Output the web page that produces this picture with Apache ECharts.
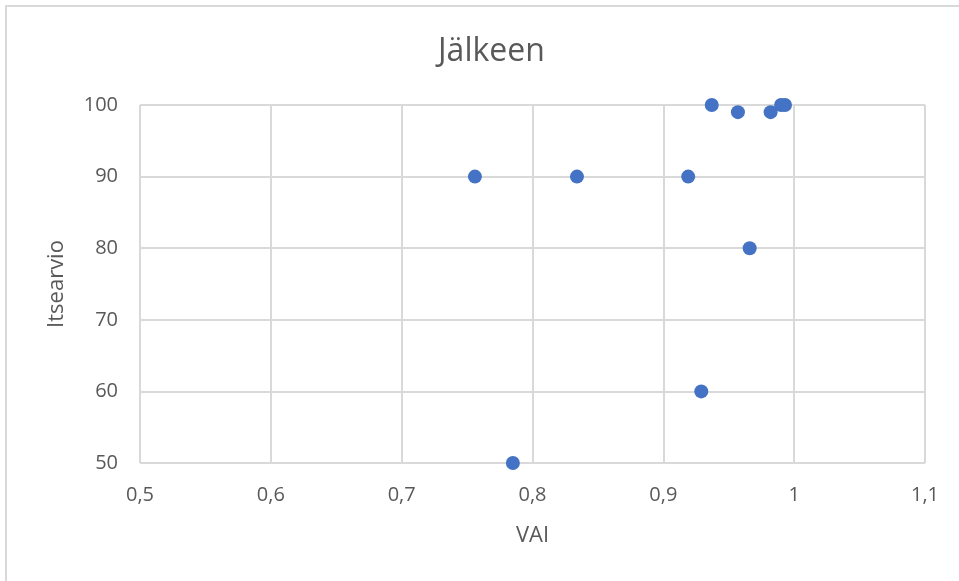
<!DOCTYPE html>
<html>
<head>
<meta charset="utf-8">
<script src="https://cdn.jsdelivr.net/npm/echarts@6/dist/echarts.min.js"></script>
<style>
  html, body { margin: 0; padding: 0; background: #fff; }
  #chart { width: 959px; height: 581px; position: absolute; left: 0; top: 0; }
  #frame {
    position: absolute; left: 5px; top: 5px; right: 0; bottom: 0;
    border-top: 2px solid #d9d9d9; border-left: 2px solid #d9d9d9;
    pointer-events: none;
  }
</style>
</head>
<body>
<div id="chart"></div>
<div id="frame"></div>
<script>
const vaiValues = [0.937, 0.957, 0.982, 0.990, 0.993, 0.756, 0.834, 0.919, 0.966, 0.929, 0.785];
const itsearvioValues = [100, 99, 99, 100, 100, 90, 90, 90, 80, 60, 50];

const textColor = '#595959';
const gridColor = '#d9d9d9';
const fontFamily = '"Open Sans", "Noto Sans", sans-serif';

const points = vaiValues.map((v, i) => [v, itsearvioValues[i]]);

const myChart = echarts.init(document.getElementById('chart'));

const option = {
    animation: false,
    title: {
        text: 'Jälkeen',
        left: 433,
        top: 31,
        textStyle: { color: textColor, fontSize: 32, fontWeight: 'normal', fontFamily: fontFamily }
    },
    grid: { left: 140, right: 34, top: 105, bottom: 118 },
    xAxis: {
        type: 'value',
        min: 0.5,
        max: 1.1,
        interval: 0.1,
        name: 'VAI',
        nameLocation: 'middle',
        nameGap: 62,
        nameTextStyle: { color: textColor, fontSize: 22, fontFamily: fontFamily },
        axisLine: { show: false },
        axisTick: { show: false },
        axisLabel: {
            color: textColor,
            fontSize: 20,
            fontFamily: fontFamily,
            margin: 22,
            formatter: v => String(Number(v.toFixed(1))).replace('.', ',')
        },
        splitLine: { show: true, lineStyle: { color: gridColor, width: 2 } }
    },
    yAxis: {
        type: 'value',
        min: 50,
        max: 100,
        interval: 10,
        name: 'Itsearvio',
        nameLocation: 'middle',
        nameGap: 72,
        nameRotate: 90,
        nameTextStyle: { color: textColor, fontSize: 22, fontFamily: fontFamily },
        axisLine: { show: false },
        axisTick: { show: false },
        axisLabel: { color: textColor, fontSize: 20, fontFamily: fontFamily, margin: 22 },
        splitLine: { show: true, lineStyle: { color: gridColor, width: 2 } }
    },
    series: [{
        name: 'Itsearvio',
        type: 'scatter',
        data: points,
        symbolSize: 14,
        itemStyle: { color: '#4472c4', opacity: 1 }
    }]
};

myChart.setOption(option);
</script>
</body>
</html>
